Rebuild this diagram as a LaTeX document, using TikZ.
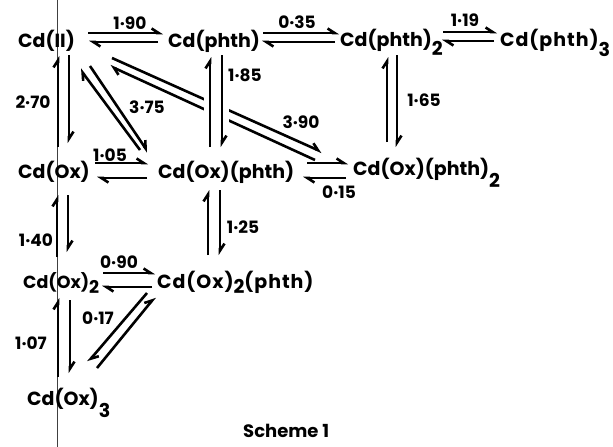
\documentclass[tikz,border=0pt]{standalone}
\usepackage{fontspec}
\setmainfont{Poppins}
\usetikzlibrary{arrows.meta}
\newcommand{\lowsub}[2]{\raisebox{-#1pt}{#2}}
\begin{document}
\begin{tikzpicture}[x=1pt,y=-1pt,
  sp/.style={anchor=base west,inner sep=0pt,font=\fontsize{19}{19}\selectfont\bfseries},
  spwide/.style={sp,font=\fontsize{19}{19}\selectfont\bfseries\addfontfeatures{LetterSpace=5}},
  lab/.style={inner sep=0pt,font=\fontsize{17}{17}\selectfont\bfseries},
  harp/.style={line width=2.6pt,-{Straight Barb[left,length=7pt,width=9pt]}},
  scan/.style={line width=0.5pt,black!75}]
\useasboundingbox (0,0) rectangle (613,447);
\draw[scan] (57.5,0) -- (57.5,447);
% species
\node[sp] (cd2) at (18,47) {Cd(II)};
\node[sp] (phth) at (168,47) {Cd(phth)};
\node[sp] (phth2) at (340,46) {Cd(phth)\lowsub{9}{2}};
\node[spwide] (phth3) at (500,46) {Cd(phth)\lowsub{10}{3}};
\node[sp] (ox) at (18,178) {Cd(Ox)};
\node[sp] (oxphth) at (158,178) {Cd(Ox)(phth)};
\node[sp] (oxphth2) at (353,175) {Cd(Ox)(phth)\lowsub{12}{2}};
\node[sp,font=\fontsize{17.5}{17.5}\selectfont\bfseries] (ox2) at (23,288) {Cd(Ox)\lowsub{5}{2}};
\node[spwide] (ox2phth) at (157,288) {Cd(Ox)\lowsub{5}{2}(phth)};
\node[sp] (ox3) at (27,405) {Cd(Ox)\lowsub{12}{3}};
\node[sp,font=\fontsize{18}{18}\selectfont\bfseries] (scheme) at (243,437) {Scheme 1};
% labels
\node[lab] (l190) at (130,23) {1·90};
\node[lab] (l035) at (297,22) {0·35};
\node[lab] (l119) at (465,20) {1·19};
\node[lab] (l270) at (33,102) {2·70};
\node[lab] (l375) at (147,107) {3·75};
\node[lab] (l185) at (245,75) {1·85};
\node[lab] (l390) at (301,122) {3·90};
\node[lab] (l165) at (424,100) {1·65};
\node[lab] (l105) at (110,155) {1·05};
\node[lab] (l015) at (339,192) {0·15};
\node[lab] (l140) at (36,240) {1·40};
\node[lab] (l125) at (243,227) {1·25};
\node[lab] (l090) at (119,262) {0·90};
\node[lab] (l017) at (98,318) {0·17};
\node[lab] (l107) at (31,343) {1·07};
% horizontal equilibria
\draw[harp] ([shift={(70,-14)}]cd2.base west) -- ([shift={(-5,-14)}]phth.base west);
\draw[harp] ([shift={(-10,-5)}]phth.base west) -- ([shift={(71,-5)}]cd2.base west);
\draw[harp] ([shift={(95,-14)}]phth.base west) -- ([shift={(-1,-13)}]phth2.base west);
\draw[harp] ([shift={(-5,-4)}]phth2.base west) -- ([shift={(94,-5)}]phth.base west);
\draw[harp] ([shift={(103,-14)}]phth2.base west) -- ([shift={(-3,-14)}]phth3.base west);
\draw[harp] ([shift={(-6,-5)}]phth3.base west) -- ([shift={(102,-5)}]phth2.base west);
\draw[harp] ([shift={(77,-15)}]ox.base west) -- ([shift={(-10,-15)}]oxphth.base west);
\draw[harp] ([shift={(-11,0)}]oxphth.base west) -- ([shift={(79,0)}]ox.base west);
\draw[harp] ([shift={(149,-15)}]oxphth.base west) -- ([shift={(-5,-12)}]oxphth2.base west);
\draw[harp] ([shift={(-7,3)}]oxphth2.base west) -- ([shift={(145,0)}]oxphth.base west);
\draw[harp] ([shift={(80,-15)}]ox2.base west) -- ([shift={(-2,-15)}]ox2phth.base west);
\draw[harp] ([shift={(-5,-1)}]ox2phth.base west) -- ([shift={(79,-1)}]ox2.base west);
% diagonal 3.90 (broken where it crosses the 1.85 pair)
\draw[harp] ([shift={(94,11)}]cd2.base west) -- ([shift={(-31,-23)}]oxphth2.base west);
\draw[harp] ([shift={(-38,-15)}]oxphth2.base west) -- ([shift={(92,19)}]cd2.base west);
\fill[white] (204,88) rectangle (229,126);
% diagonal 3.75
\draw[harp] ([shift={(-18,-28)}]oxphth.base west) -- ([shift={(62,22)}]cd2.base west);
\draw[harp] ([shift={(72,19)}]cd2.base west) -- ([shift={(-10,-26)}]oxphth.base west);
% diagonal 0.17
\draw[harp] ([shift={(-10,5)}]ox2phth.base west) -- ([shift={(61,-43)}]ox3.base west);
\draw[harp] ([shift={(70,-37)}]ox3.base west) -- ([shift={(-2,9)}]ox2phth.base west);
% vertical equilibria
\draw[harp] ([shift={(40,-31)}]ox.base west) -- ([shift={(40,9)}]cd2.base west);
\draw[harp] ([shift={(51,8)}]cd2.base west) -- ([shift={(51,-35)}]ox.base west);
\draw[harp] ([shift={(34,-31)}]ox2.base west) -- ([shift={(39,17)}]ox.base west);
\draw[harp] ([shift={(50,17)}]ox.base west) -- ([shift={(45,-36)}]ox2.base west);
\draw[harp] ([shift={(31,-28)}]ox3.base west) -- ([shift={(35,10)}]ox2.base west);
\draw[harp] ([shift={(47,12)}]ox2.base west) -- ([shift={(43,-32)}]ox3.base west);
\draw[harp] ([shift={(52,-31)}]oxphth.base west) -- ([shift={(42,10)}]phth.base west);
\draw[harp] ([shift={(54,8)}]phth.base west) -- ([shift={(64,-31)}]oxphth.base west);
\draw[harp] ([shift={(51,-33)}]ox2phth.base west) -- ([shift={(50,12)}]oxphth.base west);
\draw[harp] ([shift={(62,12)}]oxphth.base west) -- ([shift={(63,-33)}]ox2phth.base west);
\draw[harp] ([shift={(34,-33)}]oxphth2.base west) -- ([shift={(47,11)}]phth2.base west);
\draw[harp] ([shift={(57,9)}]phth2.base west) -- ([shift={(44,-28)}]oxphth2.base west);
\end{tikzpicture}
\end{document}
